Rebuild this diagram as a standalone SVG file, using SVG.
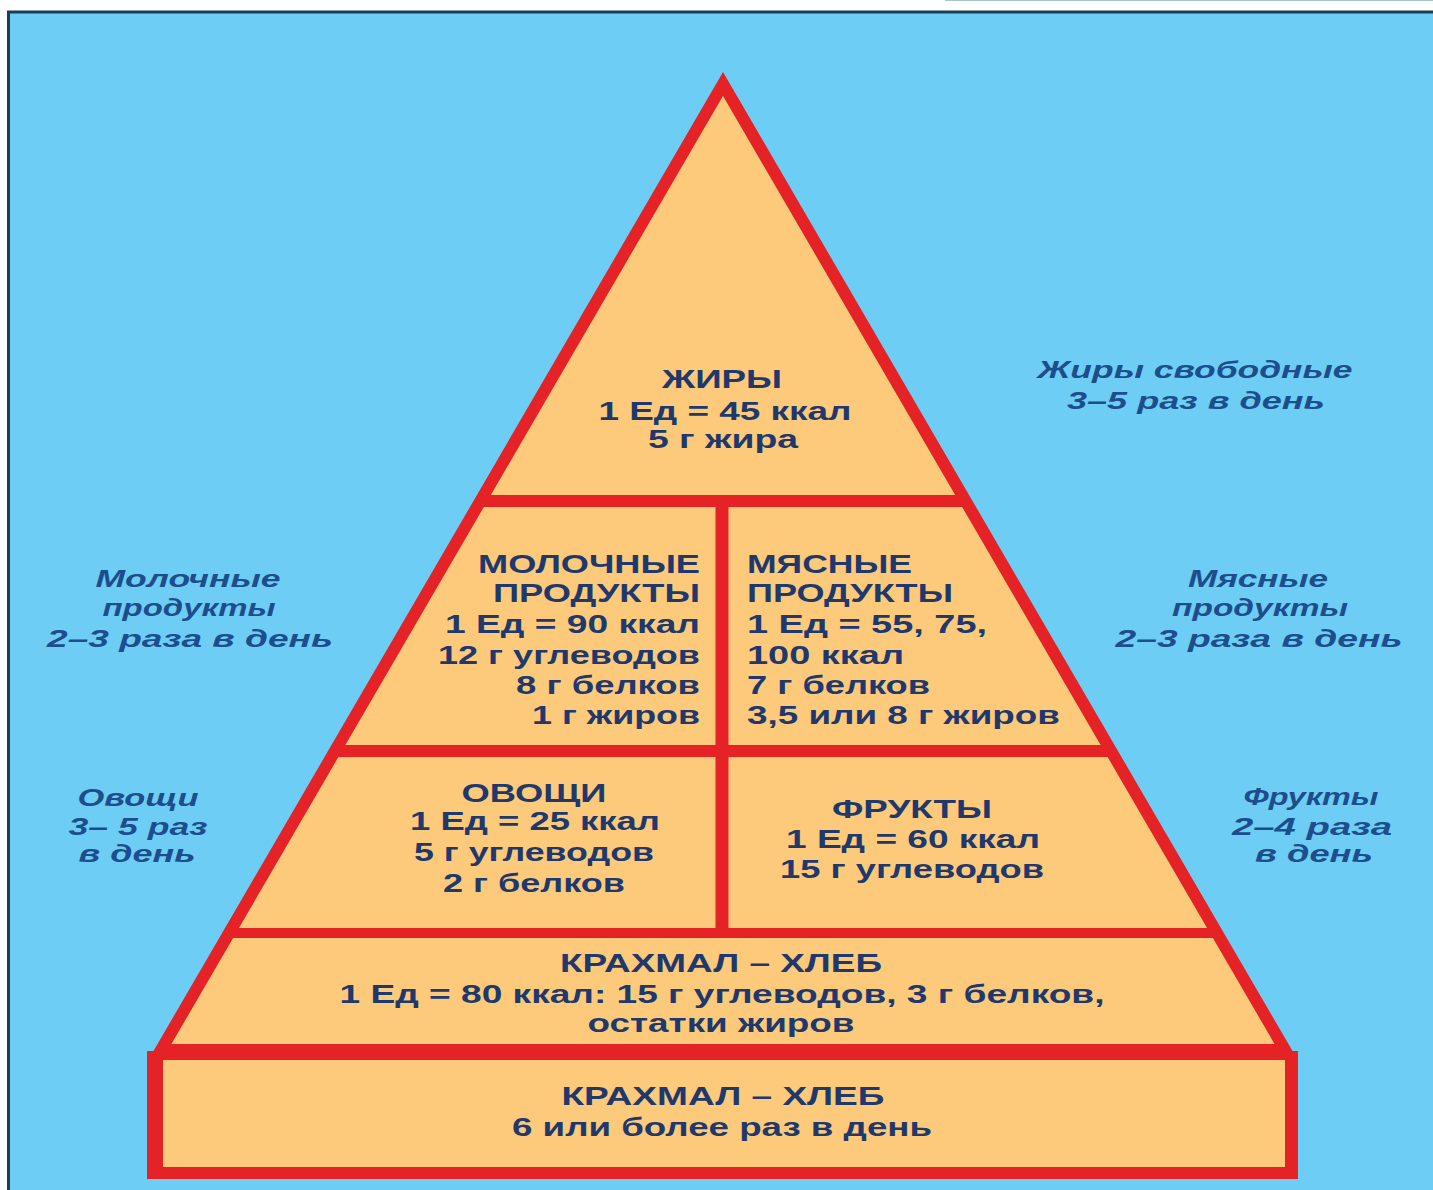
<svg xmlns="http://www.w3.org/2000/svg" width="1433" height="1190" viewBox="0 0 1433 1190">
  <style>
    .in { font-family: "Liberation Sans", Arial, sans-serif; font-weight: bold; font-size: 25px; fill: #20386b; }
    .side { font-family: "Liberation Sans", Arial, sans-serif; font-weight: bold; font-style: italic; font-size: 24px; fill: #1d4e8c; }
    .c { text-anchor: middle; }
    .r { text-anchor: end; }
    .l { text-anchor: start; }
    .red { stroke: #e52225; fill: none; }
  </style>
  <rect x="0" y="0" width="1433" height="1190" fill="#ffffff"/>
  <line x1="945" y1="0.5" x2="1433" y2="0.5" stroke="#a8c4cc" stroke-width="1"/>
  <rect x="7" y="11" width="1426" height="1179" fill="#6dcdf4"/>
  <line x1="7" y1="12" x2="1433" y2="12" stroke="#173f55" stroke-width="3"/>
  <line x1="8.5" y1="11" x2="8.5" y2="1190" stroke="#173f55" stroke-width="3"/>

  <g id="pyramid">
    <polygon points="723,84 161,1050 1285,1050" fill="#fdca7b" stroke="#e52225" stroke-width="12" stroke-linejoin="miter"/>
  </g>

  <g id="connectors">
    <line class="red" x1="480" y1="501" x2="966" y2="501" stroke-width="12"/>
    <line class="red" x1="335" y1="751" x2="1111" y2="751" stroke-width="12"/>
    <line class="red" x1="229" y1="933" x2="1217" y2="933" stroke-width="10"/>
    <line class="red" x1="722" y1="501" x2="722" y2="933" stroke-width="13"/>
  </g>

  <g id="base-box">
    <rect x="147" y="1051" width="1151" height="128" fill="#e52225"/>
    <rect x="163" y="1060" width="1122" height="107" fill="#fdca7b"/>
    <text class="in c" x="723" y="1105" textLength="323" lengthAdjust="spacingAndGlyphs">КРАХМАЛ – ХЛЕБ</text>
    <text class="in c" x="722" y="1136" textLength="420" lengthAdjust="spacingAndGlyphs">6 или более раз в день</text>
  </g>

  <g id="fats">
    <text class="in c" x="722" y="388" textLength="120" lengthAdjust="spacingAndGlyphs">ЖИРЫ</text>
    <text class="in c" x="725" y="420" textLength="253" lengthAdjust="spacingAndGlyphs">1 Ед = 45 ккал</text>
    <text class="in c" x="723" y="448" textLength="150" lengthAdjust="spacingAndGlyphs">5 г жира</text>
  </g>

  <g id="dairy">
    <text class="in r" x="700" y="573" textLength="222" lengthAdjust="spacingAndGlyphs">МОЛОЧНЫЕ</text>
    <text class="in r" x="700" y="602" textLength="207" lengthAdjust="spacingAndGlyphs">ПРОДУКТЫ</text>
    <text class="in r" x="700" y="633" textLength="255" lengthAdjust="spacingAndGlyphs">1 Ед = 90 ккал</text>
    <text class="in r" x="700" y="664" textLength="262" lengthAdjust="spacingAndGlyphs">12 г углеводов</text>
    <text class="in r" x="700" y="694" textLength="184" lengthAdjust="spacingAndGlyphs">8 г белков</text>
    <text class="in r" x="700" y="724" textLength="168" lengthAdjust="spacingAndGlyphs">1 г жиров</text>
  </g>

  <g id="meat">
    <text class="in l" x="747" y="573" textLength="165" lengthAdjust="spacingAndGlyphs">МЯСНЫЕ</text>
    <text class="in l" x="747" y="602" textLength="206" lengthAdjust="spacingAndGlyphs">ПРОДУКТЫ</text>
    <text class="in l" x="747" y="633" textLength="240" lengthAdjust="spacingAndGlyphs">1 Ед = 55, 75,</text>
    <text class="in l" x="747" y="664" textLength="157" lengthAdjust="spacingAndGlyphs">100 ккал</text>
    <text class="in l" x="747" y="694" textLength="183" lengthAdjust="spacingAndGlyphs">7 г белков</text>
    <text class="in l" x="747" y="724" textLength="313" lengthAdjust="spacingAndGlyphs">3,5 или 8 г жиров</text>
  </g>

  <g id="vegetables">
    <text class="in c" x="534" y="802" textLength="145" lengthAdjust="spacingAndGlyphs">ОВОЩИ</text>
    <text class="in c" x="535" y="830" textLength="250" lengthAdjust="spacingAndGlyphs">1 Ед = 25 ккал</text>
    <text class="in c" x="534" y="861" textLength="240" lengthAdjust="spacingAndGlyphs">5 г углеводов</text>
    <text class="in c" x="534" y="892" textLength="182" lengthAdjust="spacingAndGlyphs">2 г белков</text>
  </g>

  <g id="fruits">
    <text class="in c" x="912" y="818" textLength="160" lengthAdjust="spacingAndGlyphs">ФРУКТЫ</text>
    <text class="in c" x="913" y="848" textLength="254" lengthAdjust="spacingAndGlyphs">1 Ед = 60 ккал</text>
    <text class="in c" x="912" y="878" textLength="264" lengthAdjust="spacingAndGlyphs">15 г углеводов</text>
  </g>

  <g id="starch">
    <text class="in c" x="721" y="972" textLength="322" lengthAdjust="spacingAndGlyphs">КРАХМАЛ – ХЛЕБ</text>
    <text class="in c" x="722" y="1003" textLength="765" lengthAdjust="spacingAndGlyphs">1 Ед = 80 ккал: 15 г углеводов, 3 г белков,</text>
    <text class="in c" x="721" y="1032" textLength="267" lengthAdjust="spacingAndGlyphs">остатки жиров</text>
  </g>

  <g id="label-fats">
    <text class="side c" x="1195" y="378" textLength="315" lengthAdjust="spacingAndGlyphs">Жиры свободные</text>
    <text class="side c" x="1196" y="409" textLength="258" lengthAdjust="spacingAndGlyphs">3–5 раз в день</text>
  </g>
  <g id="label-dairy">
    <text class="side c" x="188" y="587" textLength="185" lengthAdjust="spacingAndGlyphs">Молочные</text>
    <text class="side c" x="189" y="616" textLength="173" lengthAdjust="spacingAndGlyphs">продукты</text>
    <text class="side c" x="190" y="647" textLength="286" lengthAdjust="spacingAndGlyphs">2–3 раза в день</text>
  </g>
  <g id="label-meat">
    <text class="side c" x="1258" y="587" textLength="140" lengthAdjust="spacingAndGlyphs">Мясные</text>
    <text class="side c" x="1260" y="616" textLength="176" lengthAdjust="spacingAndGlyphs">продукты</text>
    <text class="side c" x="1259" y="647" textLength="287" lengthAdjust="spacingAndGlyphs">2–3 раза в день</text>
  </g>
  <g id="label-vegetables">
    <text class="side c" x="138" y="806" textLength="121" lengthAdjust="spacingAndGlyphs">Овощи</text>
    <text class="side c" x="138" y="835" textLength="139" lengthAdjust="spacingAndGlyphs">3– 5 раз</text>
    <text class="side c" x="137" y="862" textLength="117" lengthAdjust="spacingAndGlyphs">в день</text>
  </g>
  <g id="label-fruits">
    <text class="side c" x="1311" y="805" textLength="135" lengthAdjust="spacingAndGlyphs">Фрукты</text>
    <text class="side c" x="1312" y="835" textLength="160" lengthAdjust="spacingAndGlyphs">2–4 раза</text>
    <text class="side c" x="1314" y="862" textLength="118" lengthAdjust="spacingAndGlyphs">в день</text>
  </g>
</svg>
